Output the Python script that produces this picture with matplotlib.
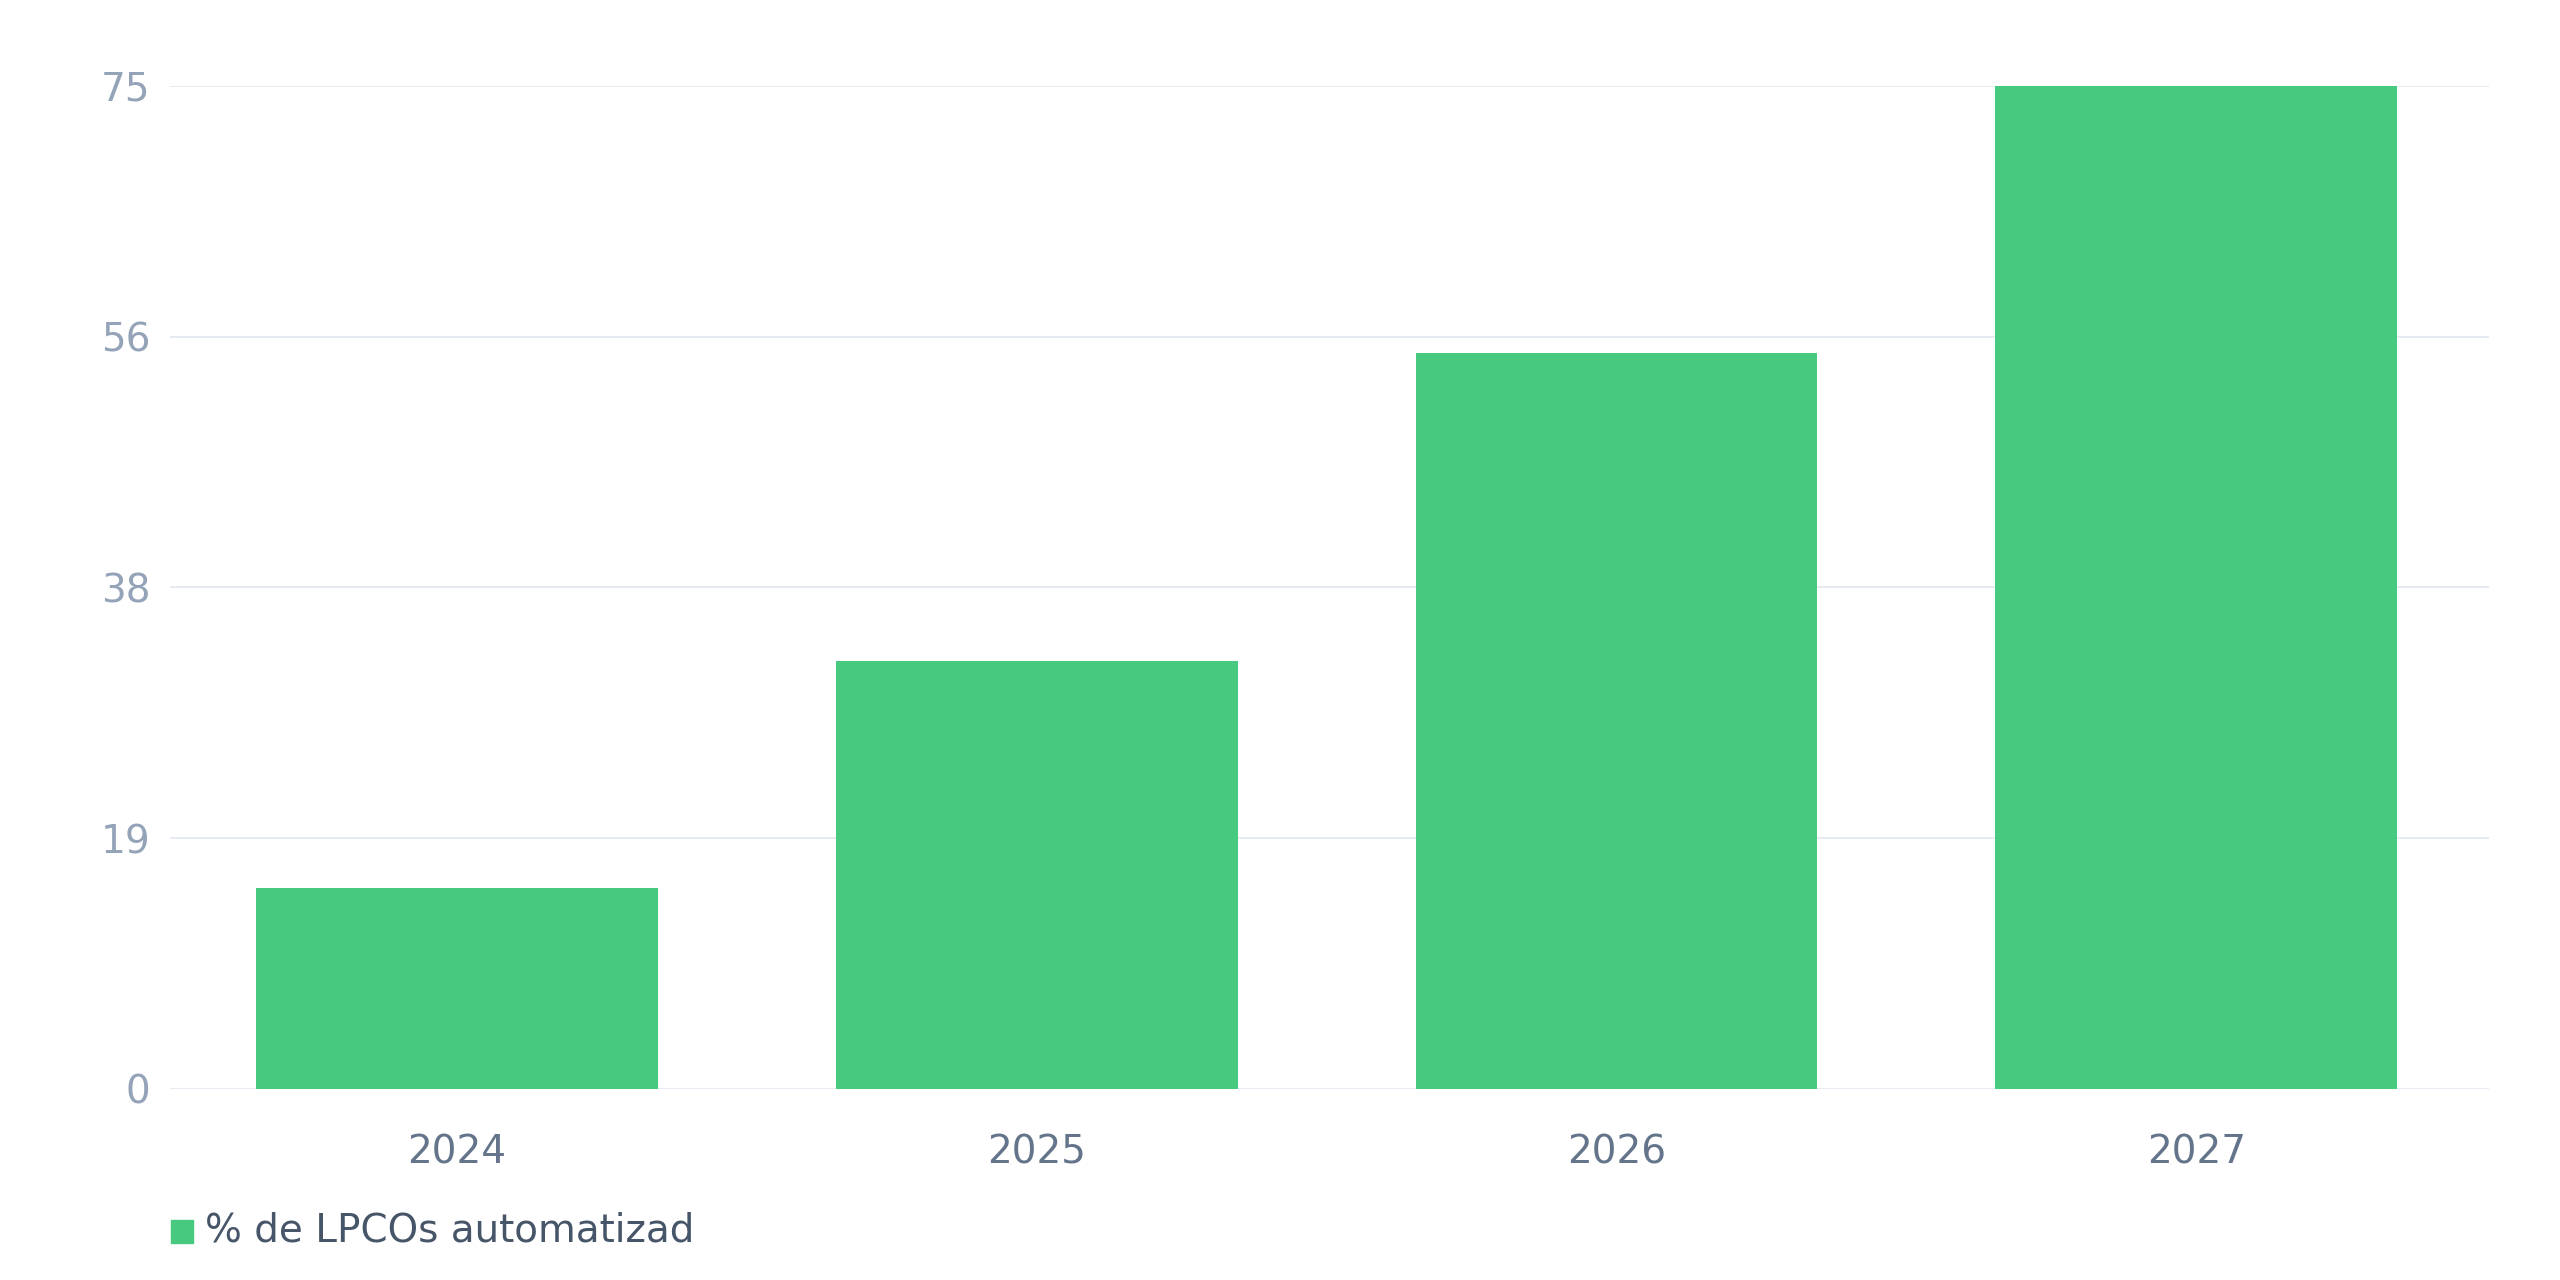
import matplotlib
matplotlib.use("Agg")
import matplotlib.pyplot as plt
from matplotlib.patches import Rectangle

categories = ["2024", "2025", "2026", "2027"]
values = [15, 32, 55, 75]
series_name = "% de LPCOs automatizad"
y_ticks = [0, 18.75, 37.5, 56.25, 75]
y_tick_labels = ["0", "19", "38", "56", "75"]

plt.rcParams['font.family'] = ['DejaVu Sans']

fig = plt.figure(figsize=(25.6, 12.8), dpi=100)
ax = fig.add_axes([170/2560, 1 - 1089/1280, (2489-170)/2560, (1089-85.7)/1280])

bar_color = "#47c97f"
x = list(range(len(categories)))
ax.bar(x, values, width=0.693, color=bar_color, zorder=3)

ax.set_xlim(-0.495, len(categories) - 0.495)
ax.set_ylim(0, 75)
ax.set_yticks(y_ticks)
ax.set_yticklabels(y_tick_labels)
ax.set_xticks(x)
ax.set_xticklabels(categories)

ax.grid(axis='y', color="#e2e8f0", linewidth=1.2, zorder=0)
ax.grid(axis='x', visible=False)
for s in ax.spines.values():
    s.set_visible(False)
ax.tick_params(axis='y', length=0, pad=14, labelsize=28, labelcolor="#94a3b8")
ax.tick_params(axis='x', length=0, pad=32, labelsize=28, labelcolor="#64748b")

# legend
fig.patches.append(Rectangle((171/2560, 1 - 1243/1280), 22/2560, 23/1280,
                             transform=fig.transFigure, color=bar_color, figure=fig))
fig.text(205/2560, 1 - 1231/1280, series_name, fontsize=28, color="#475569",
         ha='left', va='center')

fig.savefig("out.png", dpi=100, facecolor="white")
